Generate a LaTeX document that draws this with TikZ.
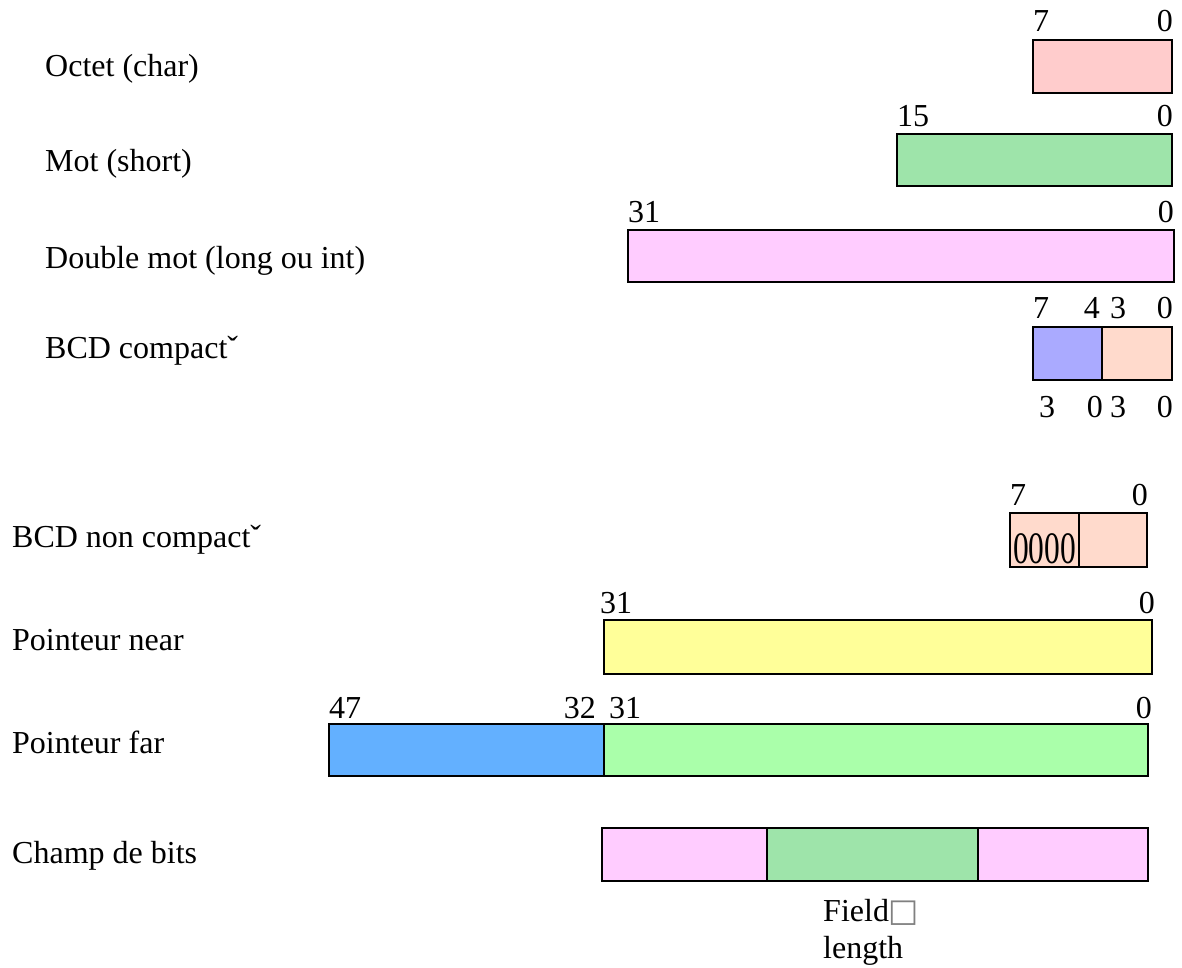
\documentclass[tikz,border=0pt]{standalone}
\usepackage{fontspec}
\setmainfont{Liberation Serif}
\newfontfamily\symfont{DejaVu Sans}
\definecolor{cpink}{HTML}{FFCCCC}
\definecolor{cgreen}{HTML}{9EE4AA}
\definecolor{cmauve}{HTML}{FFCCFF}
\definecolor{cblue}{HTML}{AAAAFF}
\definecolor{cpeach}{HTML}{FFDACC}
\definecolor{cyellow}{HTML}{FFFF99}
\definecolor{cazure}{HTML}{63B0FF}
\definecolor{clgreen}{HTML}{AAFFAA}
\begin{document}
\begin{tikzpicture}[x=1pt,y=-1pt,
  lbl/.style={inner sep=0pt, font=\fontsize{32}{37}\selectfont},
  bx/.style={draw=black, line width=2.8pt}]
\useasboundingbox (0,0) rectangle (1182,968);

% --- Octet (char)
\node[lbl, anchor=base west] (tOctet) at (45,77) {Octet (char)};
\draw[bx, fill=cpink] (1033,40) rectangle (1172,93);
\node[lbl, anchor=base west] (o7) at (1033,32) {7};
\node[lbl, anchor=base east] (o0) at (1173,32) {0};

% --- Mot (short)
\node[lbl, anchor=base west] (tMot) at (45,172) {Mot (short)};
\draw[bx, fill=cgreen] (897,134) rectangle (1172,186);
\node[lbl, anchor=base west] (m15) at (897,127) {15};
\node[lbl, anchor=base east] (m0) at (1173,127) {0};

% --- Double mot
\node[lbl, anchor=base west] (tDmot) at (45,268) {Double mot (long ou int)};
\draw[bx, fill=cmauve] (628,230) rectangle (1174,282);
\node[lbl, anchor=base west] (d31) at (628,223) {31};
\node[lbl, anchor=base east] (d0) at (1174,223) {0};

% --- BCD compact
\node[lbl, anchor=base west] (tBcd) at (45,358) {BCD compactˇ};
\draw[bx, fill=cblue] (1033,327) rectangle (1102,380);
\draw[bx, fill=cpeach] (1102,327) rectangle (1172,380);
\node[lbl, anchor=base west] (b7) at (1033,318) {7};
\node[lbl, anchor=base east] (b4) at (1100,318) {4};
\node[lbl, anchor=base west] (b3) at (1110,318) {3};
\node[lbl, anchor=base east] (b0) at (1173,318) {0};
\node[lbl, anchor=base west] (bb3) at (1039,417) {3};
\node[lbl, anchor=base east] (bb0) at (1103,417) {0};
\node[lbl, anchor=base west] (bb3b) at (1110,417) {3};
\node[lbl, anchor=base east] (bb0b) at (1173,417) {0};

% --- BCD non compact
\node[lbl, anchor=base west] (tBcdn) at (12,547) {BCD non compactˇ};
\draw[bx, fill=cpeach] (1010,513) rectangle (1147,567);
\draw[bx] (1079,513) -- (1079,567);
\node[inner sep=0pt, anchor=base west, font=\fontsize{45}{50}\selectfont] (n0000) at (1013,563) {\scalebox{0.7}[1]{0000}};
\node[lbl, anchor=base west] (n7) at (1010,505) {7};
\node[lbl, anchor=base east] (n0) at (1148,505) {0};

% --- Pointeur near
\node[lbl, anchor=base west] (tNear) at (12,650) {Pointeur near};
\draw[bx, fill=cyellow] (604,620) rectangle (1152,674);
\node[lbl, anchor=base west] (p31) at (600,613) {31};
\node[lbl, anchor=base east] (p0) at (1155,613) {0};

% --- Pointeur far
\node[lbl, anchor=base west] (tFar) at (12,753) {Pointeur far};
\draw[bx, fill=cazure] (329,724) rectangle (604,776);
\draw[bx, fill=clgreen] (604,724) rectangle (1148,776);
\node[lbl, anchor=base west] (f47) at (329,718) {47};
\node[lbl, anchor=base east] (f32) at (596,718) {32};
\node[lbl, anchor=base west] (f31) at (609,718) {31};
\node[lbl, anchor=base east] (f0) at (1152,718) {0};

% --- Champ de bits
\node[lbl, anchor=base west] (tChamp) at (12,863) {Champ de bits};
\draw[bx, fill=cmauve] (602,828) rectangle (1148,881);
\draw[bx, fill=cgreen] (767,828) rectangle (978,881);
\node[lbl, anchor=base west, align=left] (fl) at (823,958) {Field{\symfont\color{gray}□}\\length};
\end{tikzpicture}
\end{document}
